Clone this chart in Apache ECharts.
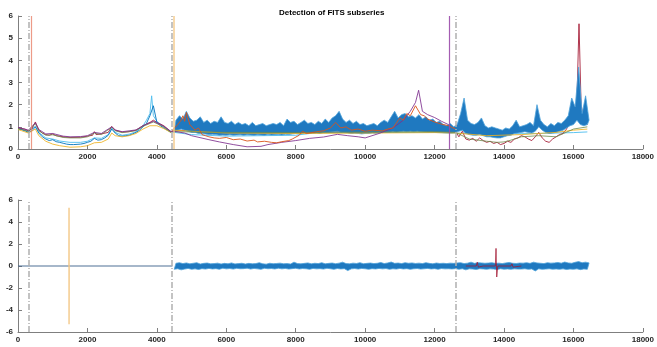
<!DOCTYPE html>
<html><head><meta charset="utf-8">
<script src="https://cdn.jsdelivr.net/npm/echarts@6/dist/echarts.min.js"></script>
<style>html,body{margin:0;padding:0;background:#fff}#c{width:657px;height:347px}</style>
</head><body><div id="c"></div><script>
// ---------- data ----------
const titleText = 'Detection of FITS subseries';

// top panel: dark-blue series before the first change (x = 0..4400 step 100)
const blueSmoothStart = 0, blueSmoothStep = 100;
const blueSmooth = [0.9,0.88,0.82,0.75,0.82,1.0,0.72,0.55,0.45,0.38, 0.42,0.33,0.3,0.26,0.22,0.2,0.2,0.21,0.22,0.25,
  0.3,0.35,0.48,0.4,0.42,0.5,0.62,0.9,0.72,0.6, 0.58,0.6,0.62,0.68,0.75,0.85,1.0,1.15,1.5,1.95, 1.2,1.05,0.95,0.85,0.75];

// top panel: noisy dark-blue series, upper / lower extremes per 100 samples (x = 4500..16400)
const blueNoiseStart = 4500, blueNoiseStep = 100;
const blueHi = [1.3,1.5,1.35,1.7,1.4,1.25,1.3,1.45,1.2,1.3,
  1.15,1.25,1.2,1.45,1.2,1.15,1.25,1.1,1.2,1.1,
  1.15,1.05,1.2,1.05,1.1,1.15,1.05,1.1,1.15,1.1,
  1.2,1.05,1.35,1.2,1.25,1.1,1.2,1.3,1.15,1.2,
  1.1,1.25,1.15,1.35,1.2,1.4,1.5,1.7,1.35,1.2,
  1.3,1.15,1.25,1.1,1.15,1.05,1.1,1.15,1.05,1.2,
  1.3,1.2,1.45,1.7,1.4,1.55,1.6,1.45,1.5,1.4,
  1.55,1.35,1.45,1.3,1.35,1.2,1.25,1.1,1.05,1.15,
  1.0,1.1,1.6,2.3,1.3,1.15,1.1,1.2,1.4,1.05,
  0.95,1.0,0.95,0.9,0.85,0.95,0.9,1.05,1.3,1.0,
  1.05,1.1,1.2,1.05,2.0,1.3,1.1,1.0,1.15,1.05,
  1.2,1.15,1.3,1.5,2.3,1.9,3.7,1.6,2.4,1.3];
const blueLo = [0.8,0.85,0.9,0.85,0.8,0.75,0.75,0.7,0.7,0.68,
  0.65,0.66,0.65,0.62,0.63,0.62,0.64,0.62,0.63,0.64,
  0.62,0.64,0.63,0.62,0.64,0.63,0.62,0.65,0.63,0.64,
  0.65,0.63,0.66,0.65,0.68,0.7,0.68,0.7,0.72,0.7,
  0.7,0.72,0.7,0.75,0.74,0.76,0.78,0.8,0.75,0.74,
  0.72,0.7,0.71,0.7,0.68,0.7,0.7,0.72,0.71,0.73,
  0.74,0.75,0.76,0.78,0.76,0.78,0.8,0.78,0.8,0.78,
  0.8,0.78,0.77,0.76,0.76,0.75,0.74,0.74,0.73,0.72,
  0.72,0.75,0.8,0.85,0.7,0.65,0.62,0.62,0.65,0.6,
  0.55,0.55,0.52,0.5,0.5,0.55,0.6,0.62,0.7,0.72,
  0.75,0.78,0.75,0.72,0.8,1.0,0.85,0.75,0.7,0.72,
  0.75,0.8,0.85,0.95,1.05,1.1,1.3,1.1,1.05,1.1];

const lightBlueX = [0,300,500,600,800,1000,1200,1500,1800,2000,2200,2400,2600,2700,2800,3000,3200,3400,3600,3700,3800,3850,3900,4000,4200,4400,4500,5000,6000,7000,8000,8500,10000,12000,12600,13000,14000,15000,16000,16400];
const lightBlueY = [0.92,0.8,1.02,0.75,0.5,0.45,0.36,0.3,0.3,0.35,0.5,0.48,0.65,0.95,0.75,0.62,0.67,0.78,1.05,1.3,1.6,2.4,1.5,1.25,1.0,0.8,0.75,0.65,0.58,0.6,0.62,0.72,0.75,0.75,0.72,0.7,0.68,0.7,0.74,0.77];

const yellowX = [0,300,500,600,800,1000,1200,1500,1800,2000,2200,2400,2600,2700,2800,3000,3200,3400,3600,3800,4000,4200,4400,4500,5000,6000,8000,10000,12000,12600,13500,14500,15500,16000,16400];
const yellowY = [0.88,0.72,0.9,0.6,0.35,0.22,0.15,0.08,0.1,0.15,0.28,0.3,0.45,0.72,0.6,0.55,0.6,0.7,0.9,1.05,1.05,0.92,0.75,0.85,0.8,0.72,0.7,0.72,0.74,0.72,0.6,0.65,0.75,0.85,0.9];

const greenX = [0,300,500,600,800,1000,1300,1500,1800,2000,2200,2400,2700,2800,3000,3400,3600,3900,4200,4400,4500,6000,8000,10000,12000,12600,13000,13500,13800,14000,14200,14500,15000,15500,16000,16400];
const greenY = [0.93,0.8,1.15,0.82,0.62,0.64,0.52,0.5,0.5,0.55,0.72,0.65,0.98,0.82,0.74,0.83,1.02,1.22,1.0,0.76,0.78,0.75,0.75,0.76,0.78,0.75,0.45,0.35,0.3,0.32,0.4,0.55,0.6,0.55,0.9,1.0];

const orangeX = [4450,4600,4700,4750,4800,4850,4950,5100,5200,5300,5400,5500,5650,5800,6000,6200,6400,6600,6800,6900,7100,7300,7450,7600,7800,7900,8100,8200,8300,8400,8600,8800,9000,9150,9300,9450,9600,9800,10000,10200,10500,10650,10800,11000,11100,11200,11300,11450,11600,11700,11800,12000,12200,12400,12600];
const orangeY = [0.85,1.1,1.3,1.5,1.25,1.65,1.1,0.85,0.95,0.65,0.6,0.55,0.5,0.48,0.52,0.42,0.45,0.36,0.4,0.32,0.35,0.3,0.28,0.33,0.38,0.45,0.62,0.8,0.7,0.72,0.78,0.82,0.95,1.2,0.95,1.0,0.85,0.9,0.8,0.85,0.82,0.9,0.95,1.4,1.3,1.6,1.5,1.95,1.55,1.5,1.35,1.22,1.12,1.05,0.9];

const purpleX = [0,300,500,600,800,1000,1300,1500,1800,2000,2200,2400,2700,2800,3000,3400,3600,3900,4200,4400,4500,4800,5000,5500,5800,6200,6600,7000,7200,7600,8000,8400,8800,9200,9500,9800,10000,10400,10800,11100,11300,11450,11540,11650,11800,12000,12200,12400];
const purpleY = [0.97,0.85,1.18,0.88,0.68,0.7,0.58,0.55,0.56,0.6,0.75,0.7,1.0,0.86,0.78,0.86,1.05,1.25,1.03,0.8,0.8,0.72,0.6,0.42,0.32,0.2,0.1,0.12,0.2,0.3,0.38,0.48,0.54,0.66,0.6,0.55,0.5,0.7,0.95,1.3,1.7,2.1,2.65,1.7,1.55,1.42,1.25,1.1];

const redX = [0,200,300,400,500,600,700,800,900,1000,1100,1300,1500,1800,2000,2150,2200,2250,2400,2600,2700,2800,3000,3200,3400,3600,3800,3900,4000,4200,4400,
  4500,6000,8000,10000,11000,12000,12600,
  12650,12700,12800,12900,13000,13100,13200,13300,13400,13500,13600,13700,13800,13900,14000,14100,14200,14300,14400,14500,14600,14700,14800,14900,15000,15100,15200,15300,15400,15500,15600,15700,15800,15900,16000,16100,16160,16220,16300,16400];
const redY = [0.95,0.9,0.82,0.9,1.22,0.85,0.72,0.65,0.62,0.68,0.6,0.55,0.52,0.53,0.58,0.62,0.78,0.65,0.68,0.75,1.02,0.85,0.76,0.78,0.85,1.05,1.2,1.3,1.2,1.05,0.78,
  0.85,0.78,0.75,0.8,0.85,0.85,0.8,
  0.75,0.55,0.8,0.45,0.4,0.48,0.35,0.5,0.38,0.3,0.35,0.25,0.3,0.2,0.25,0.35,0.3,0.45,0.5,0.6,0.55,0.45,0.38,0.55,0.75,0.5,0.35,0.3,0.45,0.55,0.65,0.7,0.9,1.2,1.5,2.2,5.65,2.0,1.3,1.1];

// change points
const grayDashX = [321, 4420, 12600];
const topMarkX = [370, 4477, 12410];

// bottom panel
const botBaseX = [0, 4450];
const botBaseY = [0, 0];
const botNoiseStart = 4500, botNoiseStep = 100;
const botHi = [0.25,0.3,0.22,0.28,0.2,0.25,0.3,0.18,0.24,0.27,
  0.2,0.22,0.26,0.18,0.24,0.2,0.28,0.19,0.22,0.25,
  0.18,0.24,0.2,0.22,0.3,0.2,0.17,0.25,0.21,0.23,
  0.26,0.2,0.22,0.18,0.35,0.22,0.2,0.24,0.28,0.2,
  0.25,0.22,0.3,0.2,0.24,0.27,0.21,0.26,0.35,0.22,
  0.2,0.26,0.23,0.3,0.21,0.24,0.27,0.22,0.25,0.32,
  0.22,0.28,0.36,0.24,0.27,0.22,0.3,0.25,0.28,0.23,
  0.26,0.22,0.3,0.24,0.2,0.27,0.23,0.25,0.22,0.26,
  0.24,0.28,0.3,0.22,0.26,0.35,0.24,0.3,0.28,0.25,
  0.27,0.3,0.24,0.26,0.22,0.28,0.32,0.25,0.23,0.27,
  0.26,0.3,0.24,0.35,0.28,0.25,0.22,0.3,0.26,0.28,
  0.32,0.26,0.36,0.28,0.25,0.34,0.4,0.3,0.35,0.28];
const botLo = [-0.3,-0.25,-0.35,-0.28,-0.22,-0.3,-0.26,-0.32,-0.24,-0.28,
  -0.22,-0.27,-0.24,-0.3,-0.2,-0.26,-0.23,-0.28,-0.21,-0.25,
  -0.24,-0.2,-0.28,-0.22,-0.26,-0.3,-0.21,-0.25,-0.23,-0.27,
  -0.2,-0.26,-0.22,-0.28,-0.24,-0.21,-0.27,-0.23,-0.25,-0.3,
  -0.22,-0.26,-0.24,-0.28,-0.21,-0.25,-0.3,-0.23,-0.27,-0.24,
  -0.42,-0.26,-0.23,-0.28,-0.22,-0.25,-0.3,-0.24,-0.27,-0.22,
  -0.26,-0.23,-0.3,-0.25,-0.28,-0.22,-0.27,-0.24,-0.3,-0.25,
  -0.23,-0.28,-0.25,-0.22,-0.27,-0.24,-0.3,-0.23,-0.26,-0.25,
  -0.27,-0.24,-0.3,-0.25,-0.35,-0.26,-0.28,-0.32,-0.25,-0.27,
  -0.3,-0.26,-0.28,-0.32,-0.25,-0.29,-0.27,-0.3,-0.26,-0.28,
  -0.28,-0.25,-0.3,-0.27,-0.45,-0.26,-0.3,-0.28,-0.25,-0.29,
  -0.27,-0.3,-0.26,-0.32,-0.28,-0.3,-0.26,-0.33,-0.27,-0.3];
const botRedX = [12900,13200,13230,13260,13400,13750,13770,13790,13820,14200,14230,14260,14500];
const botRedY = [0,0,0.35,-0.1,0,0,1.6,-1.0,0,0,0.2,-0.1,0];
const botYellowX = [1468,1470,1471,1473];
const botYellowY = [0,5.3,-5.3,0];

// ---------- chart ----------
const C = {blue:'#0072BD', orange:'#D95319', yellow:'#EDB120', purple:'#7E2F8E', green:'#77AC30', lblue:'#4DBEEE', red:'#A2142F'};
const pairs = (xs, ys) => xs.map((x, i) => [x, ys[i]]);
const seq = (x0, step, ys) => ys.map((y, i) => [x0 + i * step, y]);
const axisCol = '#7f7f7f';
const lbl = {fontSize: 8, fontWeight: 'bold', color: '#262626', fontFamily: 'Liberation Sans'};
function xAx(gi) {
  return {gridIndex: gi, type: 'value', min: 0, max: 18000, interval: 2000,
    axisLine: {show: true, onZero: false, lineStyle: {color: axisCol}}, axisTick: {show: true, inside: true, length: 4, lineStyle: {color: axisCol}},
    splitLine: {show: false}, axisLabel: Object.assign({margin: 4, showMaxLabel: true, formatter: v => String(v)}, lbl)};
}
function yAx(gi, mn, mx, iv) {
  return {gridIndex: gi, type: 'value', min: mn, max: mx, interval: iv,
    axisLine: {show: true, onZero: false, lineStyle: {color: axisCol}}, axisTick: {show: true, inside: true, length: 4, lineStyle: {color: axisCol}},
    splitLine: {show: false}, axisLabel: Object.assign({margin: 5, formatter: v => String(v)}, lbl)};
}
function line(gi, data, color, w, op, z) {
  return {type: 'line', xAxisIndex: gi, yAxisIndex: gi, data, showSymbol: false, symbol: 'none', silent: true,
    lineStyle: {color, width: w || 1, opacity: op == null ? 0.9 : op}, z: z || 2, animation: false};
}
// noisy band: filled polygon through the high extremes and back through the low extremes
function band(gi, x0, step, hi, lo, fill, stroke, z) {
  return {type: 'custom', xAxisIndex: gi, yAxisIndex: gi, silent: true, animation: false, z: z || 3,
    data: hi.map((h, i) => [x0 + i * step, lo[i], h]),
    encode: {x: 0, y: [1, 2]},
    renderItem: (params, api) => {
      if (params.dataIndex !== 0) return null;
      const pts = [];
      for (let i = 0; i < hi.length; i++) pts.push(api.coord([x0 + i * step + step / 2, hi[i]]));
      for (let i = lo.length - 1; i >= 0; i--) pts.push(api.coord([x0 + i * step, lo[i]]));
      return {type: 'polygon', shape: {points: pts}, style: {fill, stroke, lineWidth: 0.8}};
    }};
}
const dashStyle = {color: '#b0b0b0', width: 1.5, type: [6, 2, 1, 2]};
function marks(gi, items) {
  return {type: 'line', xAxisIndex: gi, yAxisIndex: gi, data: [], silent: true, animation: false,
    markLine: {symbol: ['none', 'none'], silent: true, animation: false, label: {show: false},
      data: items.map(it => ({xAxis: it.x, lineStyle: it.style}))}};
}
const topMarkStyles = [
  {color: '#E8826A', width: 1.2, opacity: 0.8, type: 'solid'},
  {color: '#F3C784', width: 1.5, opacity: 0.9, type: 'solid'},
  {color: '#9A4BAA', width: 1.2, opacity: 0.9, type: 'solid'}];

const option = {
  animation: false,
  backgroundColor: '#fff',
  title: {text: titleText, left: 274, top: 4, textStyle: {fontSize: 8, fontWeight: 'bold', color: '#000', fontFamily: 'Liberation Sans'}},
  grid: [{left: 18, top: 16, width: 632, height: 133}, {left: 18, top: 200, width: 632, height: 132}],
  xAxis: [xAx(0), xAx(1)],
  yAxis: [yAx(0, 0, 6, 1), yAx(1, -6, 6, 2)],
  series: [
    marks(0, grayDashX.map(x => ({x, style: dashStyle})).concat(topMarkX.map((x, i) => ({x, style: topMarkStyles[i]})))),
    line(0, pairs(lightBlueX, lightBlueY), C.lblue, 1, 0.9, 2),
    line(0, pairs(redX, redY), C.red, 1, 0.85, 2),
    band(0, blueNoiseStart, blueNoiseStep, blueHi, blueLo, '#1f79c0', '#4fa3da', 3),
    line(0, seq(blueSmoothStart, blueSmoothStep, blueSmooth), C.blue, 1, 0.9, 3),
    line(0, pairs(yellowX, yellowY), C.yellow, 1, 0.85, 4),
    line(0, pairs(greenX, greenY), '#6d8a4a', 1, 0.8, 4),
    line(0, pairs(purpleX, purpleY), C.purple, 1, 0.85, 4),
    line(0, pairs(orangeX, orangeY), C.orange, 1, 0.9, 4),
    marks(1, grayDashX.map(x => ({x, style: dashStyle}))),
    line(1, pairs(botBaseX, botBaseY), '#3b5f8a', 1, 0.9, 3),
    band(1, botNoiseStart, botNoiseStep, botHi, botLo, '#1f79c0', '#4fa3da', 3),
    line(1, pairs(botRedX, botRedY), C.red, 1, 0.75, 4),
    line(1, pairs(botYellowX, botYellowY), '#F3C784', 1.5, 0.9, 4)
  ]
};
const chart = echarts.init(document.getElementById('c'), null, {renderer: 'canvas'});
chart.setOption(option);
</script></body></html>
